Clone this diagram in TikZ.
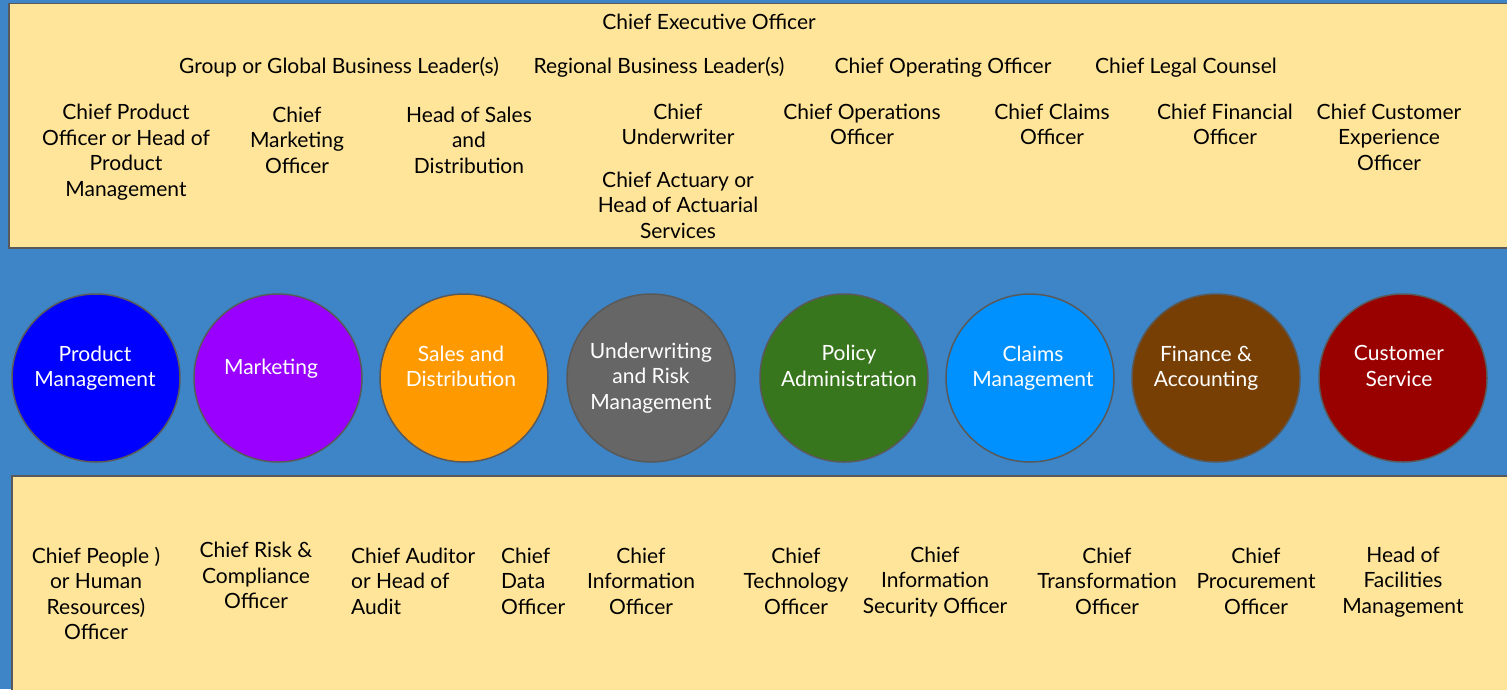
\documentclass[tikz,border=0pt]{standalone}
\usepackage{fontspec}
\setmainfont{Lato}
\definecolor{bgblue}{HTML}{3D85C6}
\definecolor{panelyellow}{HTML}{FFE599}
\definecolor{edgegray}{HTML}{595959}
\definecolor{pmblue}{HTML}{0000FF}
\definecolor{mkpurple}{HTML}{9900FF}
\definecolor{sdorange}{HTML}{FF9900}
\definecolor{uwgray}{HTML}{666666}
\definecolor{pagreen}{HTML}{38761D}
\definecolor{cmblue}{HTML}{0091FF}
\definecolor{fabrown}{HTML}{783F04}
\definecolor{csred}{HTML}{990000}

\begin{document}
\begin{tikzpicture}[x=1pt,y=-1pt,
    panel/.style={fill=panelyellow,draw=edgegray,line width=1.5pt},
    role/.style={align=center,font=\fontsize{21}{25.5}\selectfont,inner sep=0pt},
    dept/.style={circle,draw=edgegray,line width=1.5pt,minimum size=168pt,inner sep=0pt},
    deptname/.style={role,text=white}]
    \fill[bgblue](0,0)rectangle(1507,689);
    \useasboundingbox(0,0)rectangle(1507,689);
    \begin{scope}\clip(0,0)rectangle(1507,689);
      \draw[panel](9,3.5)rectangle(1520,248);
      \draw[panel](12,476)rectangle(1520,700);
    \end{scope}
    % executives
    \node[role](ceo)at(709,22){Chief Executive Officer};
    \node[role](gbl)at(339,67.5){Group or Global Business Leader(s)};
    \node[role](rbl)at(659,67.5){Regional Business Leader(s)};
    \node[role](coo)at(943,67.5){Chief Operating Officer};
    \node[role](clc)at(1186,67.5){Chief Legal Counsel};
    \node[role](cpo)at(126,152){Chief Product\\Officer or Head of\\Product\\Management};
    \node[role](cmo)at(297,140){Chief\\Marketing\\Officer};
    \node[role](hsd)at(469,140){Head of Sales\\and\\Distribution};
    \node[role](cuw)at(678,124.5){Chief\\Underwriter};
    \node[role](cact)at(678,205){Chief Actuary or\\Head of Actuarial\\Services};
    \node[role](cops)at(862,124.5){Chief Operations\\Officer};
    \node[role](ccl)at(1052,124.5){Chief Claims\\Officer};
    \node[role](cfo)at(1225,124.5){Chief Financial\\Officer};
    \node[role](cxo)at(1389,137){Chief Customer\\Experience\\Officer};
    % functions
    \foreach \n/\x/\c in {pm/96/pmblue,mk/278/mkpurple,sd/464/sdorange,uw/651/uwgray,
        pa/844/pagreen,cm/1030/cmblue,fa/1216/fabrown,cs/1403/csred}
      \node[dept,fill=\c](\n)at(\x,378){};
    \node[deptname](pmt)at(95,368){Product\\Management};
    \node[deptname](mkt)at(271,369){Marketing};
    \node[deptname](sdt)at(461,366.5){Sales and\\Distribution};
    \node[deptname](uwt)at(651,378){Underwriting\\and Risk\\Management};
    \node[deptname](pat)at(849,366){Policy\\Administration};
    \node[deptname](cmt)at(1033,368){Claims\\Management};
    \node[deptname](fat)at(1206,368){Finance \&\\Accounting};
    \node[deptname](cst)at(1399,366){Customer\\Service};
    % support
    \node[role](chr)at(96,593.5){Chief People )\\or Human\\Resources)\\Officer};
    \node[role](crc)at(256,575.5){Chief Risk \&\\Compliance\\Officer};
    \node[role,align=left,anchor=west](cau)at(351,581){Chief Auditor\\or Head of\\Audit};
    \node[role,align=left,anchor=west](cdo)at(501,581){Chief\\Data\\Officer};
    \node[role](cio)at(641,581){Chief\\Information\\Officer};
    \node[role](cto)at(796,581){Chief\\Technology\\Officer};
    \node[role](ciso)at(935,582){Chief\\Information\\Security Officer};
    \node[role](ctr)at(1107,581){Chief\\Transformation\\Officer};
    \node[role](cpr)at(1256,581){Chief\\Procurement\\Officer};
    \node[role](hfm)at(1403,582){Head of\\Facilities\\Management};
\end{tikzpicture}
\end{document}
